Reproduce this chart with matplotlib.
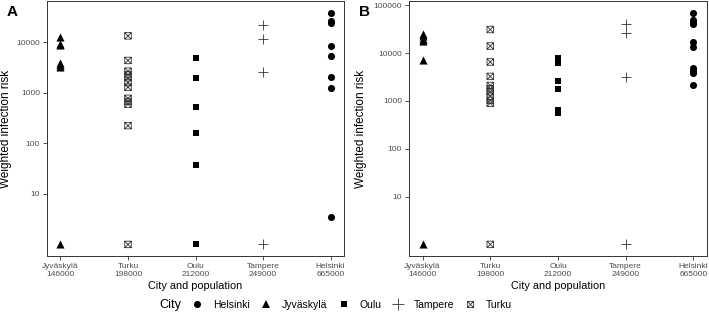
import numpy as np
import matplotlib.pyplot as plt
from matplotlib.path import Path
from matplotlib.lines import Line2D

plt.rcParams['font.family'] = ['Liberation Sans', 'DejaVu Sans']

cities = ['Jyväskylä', 'Turku', 'Oulu', 'Tampere', 'Helsinki']
populations = ['146000', '198000', '212000', '249000', '665000']
tick_labels = [c + '\n' + p for c, p in zip(cities, populations)]

# panel A values
a_jyvaskyla = [13000, 9500, 8800, 4000, 3600, 3300, 1]
a_turku = [13500, 4400, 2700, 2300, 2000, 1600, 1300, 780, 680, 600, 225, 1]
a_oulu = [4850, 1940, 520, 160, 37, 1]
a_tampere = [21900, 11800, 2600, 1]
a_helsinki = [39000, 27000, 24500, 8500, 5400, 2100, 1240, 3.5]

# panel B values
b_jyvaskyla = [25400, 22400, 20000, 17800, 7000, 1]
b_turku = [31000, 14000, 6500, 3250, 2100, 1800, 1550, 1250, 1030, 890, 1]
b_oulu = [8000, 7000, 6300, 2570, 1740, 660, 550]
b_tampere = [40000, 26000, 3100, 1]
b_helsinki = [70000, 48000, 42000, 40000, 17000, 13400, 4900, 4300, 3900, 2150]

# boxed x marker (like R pch 7)
boxx = Path([(-1, -1), (1, -1), (1, 1), (-1, 1), (-1, -1),
             (-1, -1), (1, 1), (-1, 1), (1, -1)],
            [Path.MOVETO, Path.LINETO, Path.LINETO, Path.LINETO, Path.CLOSEPOLY,
             Path.MOVETO, Path.LINETO, Path.MOVETO, Path.LINETO])

styles = {
    'Helsinki': dict(marker='o', s=26, c='black', linewidths=0),
    'Jyväskylä': dict(marker='^', s=34, c='black', linewidths=0),
    'Oulu': dict(marker='s', s=22, c='black', linewidths=0),
    'Tampere': dict(marker='+', s=60, c='#333333', linewidths=0.6),
    'Turku': dict(marker=boxx, s=22, facecolors='none', edgecolors='#333333', linewidths=0.6),
}

fig = plt.figure(figsize=(7.09, 3.24), dpi=100)
W, H = 709, 324


def make_axes(l, r, t, b):
    return fig.add_axes([l / W, 1 - b / H, (r - l) / W, (b - t) / H])


def draw(ax, data, yticks, left_px, width_px, label_x):
    for i, city in enumerate(cities):
        vals = data[city]
        ax.scatter([i + 1] * len(vals), vals, zorder=3, **styles[city])
    ax.set_yscale('log')
    ax.margins(y=0.05)
    ax.set_xlim(0.8, 5.2)
    ax.set_xticks(range(1, 6))
    ax.set_xticklabels(tick_labels)
    ax.set_yticks(yticks)
    ax.set_yticklabels([str(v) for v in yticks])
    ax.minorticks_off()
    ax.tick_params(axis='both', colors='#333333', labelcolor='#4d4d4d',
                   labelsize=6.0, length=3, width=0.6, pad=2)
    for sp in ax.spines.values():
        sp.set_color('#333333')
        sp.set_linewidth(0.7)
    ax.set_ylabel('Weighted infection risk', fontsize=8.5)
    ax.yaxis.set_label_coords((label_x - left_px) / width_px, 0.5)
    ax.set_xlabel('City and population', fontsize=7.8, labelpad=2)


axA = make_axes(47, 344, 1, 256)
draw(axA, {'Jyväskylä': a_jyvaskyla, 'Turku': a_turku, 'Oulu': a_oulu,
           'Tampere': a_tampere, 'Helsinki': a_helsinki}, [10, 100, 1000, 10000],
     47, 297, 12)

axB = make_axes(409, 707, 1, 256)
draw(axB, {'Jyväskylä': b_jyvaskyla, 'Turku': b_turku, 'Oulu': b_oulu,
           'Tampere': b_tampere, 'Helsinki': b_helsinki}, [10, 100, 1000, 10000, 100000],
     409, 298, 367)

fig.text(7 / W, 1 - 12 / H, 'A', fontsize=11, fontweight='bold', va='center')
fig.text(359 / W, 1 - 12 / H, 'B', fontsize=11, fontweight='bold', va='center')

# legend
order = ['Helsinki', 'Jyväskylä', 'Oulu', 'Tampere', 'Turku']
handles = []
for city in order:
    st = styles[city]
    if city == 'Turku':
        h = Line2D([], [], ls='none', marker=boxx, markersize=4.5, markerfacecolor='none',
                   markeredgecolor='#333333', markeredgewidth=0.6)
    elif city == 'Tampere':
        h = Line2D([], [], ls='none', marker='+', markersize=9, color='#333333',
                   markeredgewidth=0.6)
    else:
        h = Line2D([], [], ls='none', marker=st['marker'], markersize=np.sqrt(st['s']),
                   color='black', markeredgewidth=0)
    handles.append(h)

fig.text(159 / W, 1 - 305 / H, 'City', fontsize=9.2, va='center')
fig.legend(handles, order, loc='center left', bbox_to_anchor=(192 / W, 1 - 305 / H),
           ncol=5, frameon=False, fontsize=7.5, handlelength=1.0, handletextpad=1.04,
           columnspacing=1.04, borderaxespad=0, borderpad=0)

fig.savefig('out.png', dpi=100)
